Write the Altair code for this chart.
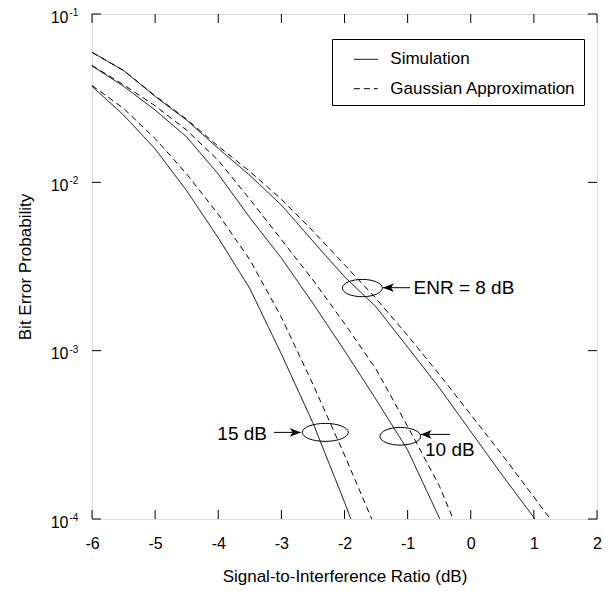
import altair as alt
import pandas as pd

# ---------------- data ----------------
snr = [-6, -5.5, -5, -4.5, -4, -3.5, -3, -2.5, -2, -1.5, -1, -0.5, 0, 0.5, 1, 1.5]

enr8_sim = [0.0592, 0.0462, 0.0324, 0.0234, 0.0159, 0.0110, 0.00733, 0.00447,
            0.00275, 0.00182, 0.00105, 0.000603, 0.000331, 0.000182, 0.000102, 0.0000562]
enr8_gauss = [0.0592, 0.0462, 0.0327, 0.0237, 0.0164, 0.0116, 0.00794, 0.00513,
              0.00324, 0.00204, 0.00123, 0.000724, 0.000417, 0.000240, 0.000135, 0.0000759]
enr10_sim = [0.0492, 0.0372, 0.0269, 0.0186, 0.0112, 0.00617, 0.00355, 0.00191,
             0.00100, 0.000513, 0.000257, 0.000102, 0.0000316]
enr10_gauss = [0.0495, 0.0380, 0.0285, 0.0204, 0.0135, 0.00794, 0.00457, 0.00263,
               0.00145, 0.000776, 0.000355, 0.000158, 0.0000562]
enr15_sim = [0.0372, 0.0251, 0.0158, 0.00891, 0.00468, 0.00234, 0.000955, 0.000372,
             0.000126, 0.0000398]
enr15_gauss = [0.0376, 0.0275, 0.0182, 0.0112, 0.00646, 0.00347, 0.00158, 0.000631,
               0.000240, 0.0000871, 0.0000316]

series_types = ["Simulation", "Gaussian Approximation"]

x_ticks = [-6, -5, -4, -3, -2, -1, 0, 1, 2]
y_ticks = [1e-1, 1e-2, 1e-3, 1e-4]
y_tick_exps = ["-1", "-2", "-3", "-4"]

# annotations (data coordinates)
ann_labels = ["ENR = 8 dB", "10 dB", "15 dB"]
ann_x = [-0.907, -0.725, -3.228]
ann_p = [0.002366, 0.000256, 0.000322]
ann_align = ["left", "left", "right"]

ell_x = [-1.718, -1.116, -2.304]
ell_p = [0.002355, 0.000310, 0.000327]

arrow_from_x = [-0.962, -0.329, -3.117]
arrow_tip_x = [-1.39, -0.793, -2.694]
arrow_p = [0.002366, 0.000318, 0.000327]
arrow_dir = ["left", "left", "right"]

# ---------------- styles ----------------
FONT = "Liberation Sans"
ell_w = [40, 40.7, 46]
ell_h = [17.3, 17.7, 18]
LEFT_HEAD = "M0,0L2,-0.8L1.45,0L2,0.8Z"
RIGHT_HEAD = "M0,0L-2,-0.8L-1.45,0L-2,0.8Z"

# ---------------- tables ----------------
rows = []
for name, vals, typ in [("8s", enr8_sim, "Simulation"), ("8g", enr8_gauss, "Gaussian Approximation"),
                        ("10s", enr10_sim, "Simulation"), ("10g", enr10_gauss, "Gaussian Approximation"),
                        ("15s", enr15_sim, "Simulation"), ("15g", enr15_gauss, "Gaussian Approximation")]:
    for xv, pv in zip(snr, vals):
        rows.append({"x": xv, "p": pv, "series": name, "type": typ})
df = pd.DataFrame(rows)

xt_df = pd.DataFrame({"x": x_ticks})
yt_df = pd.DataFrame({"p": y_ticks, "exp": y_tick_exps})

ann_df = pd.DataFrame({"x": ann_x, "p": ann_p, "label": ann_labels, "align": ann_align})
ell_df = pd.DataFrame({
    "x": ell_x, "p": ell_p,
    "shape": [f"M-1,0A1,{h / w:.3f},0,1,0,1,0A1,{h / w:.3f},0,1,0,-1,0Z" for w, h in zip(ell_w, ell_h)],
    "size": [w * w for w in ell_w],
})
arr_df = pd.DataFrame({"x": arrow_from_x, "x2": arrow_tip_x, "p": arrow_p,
                       "shape": [LEFT_HEAD if d == "left" else RIGHT_HEAD for d in arrow_dir]})

W = H = 505
xscale = alt.Scale(domain=[-6, 2], nice=False, zero=False)
yscale = alt.Scale(type="log", domain=[1e-4, 1e-1], nice=False)

xaxis = alt.Axis(values=x_ticks, labelExpr="'' + datum.value", ticks=False, tickSize=0,
                 domain=False, grid=False, labelFontSize=16, labelFont=FONT, labelColor="black",
                 labelPadding=16, labelFlush=False, labelOverlap=False,
                 title="Signal-to-Interference Ratio (dB)", titleFont=FONT, titleFontSize=17,
                 titleFontWeight="normal", titleColor="black", titlePadding=17)
yaxis = alt.Axis(labels=False, ticks=False, tickSize=0, domain=False, grid=False,
                 title="Bit Error Probability", titleFont=FONT, titleFontSize=17,
                 titleFontWeight="normal", titleColor="black", titlePadding=58)


def X(field):
    return alt.X(field, type="quantitative", scale=xscale, axis=xaxis)


def Y(field):
    return alt.Y(field, type="quantitative", scale=yscale, axis=yaxis)


lines = alt.Chart(df).mark_line(clip=True, strokeWidth=1, color="black").encode(
    x=X("x"),
    y=Y("p"),
    strokeDash=alt.StrokeDash(
        "type:N",
        scale=alt.Scale(domain=series_types, range=[[1, 0], [6, 4]]),
        legend=alt.Legend(
            orient="none", legendX=240, legendY=25, title=None,
            symbolType="stroke", symbolStrokeColor="black", symbolStrokeWidth=1,
            symbolSize=576, symbolOffset=13.5, labelFont=FONT, labelFontSize=17,
            labelColor="black", labelOffset=12, labelLimit=400, padding=7.8, rowPadding=8.4,
            strokeColor="black", fillColor="white",
        ),
    ),
    detail="series:N",
)

tick_bottom = alt.Chart(xt_df).mark_rule(color="black", strokeWidth=1).encode(
    x=X("x"), y=alt.value(H), y2=alt.value(H - 9))
tick_top = alt.Chart(xt_df).mark_rule(color="black", strokeWidth=1).encode(
    x=X("x"), y=alt.value(0), y2=alt.value(9))
tick_left = alt.Chart(yt_df).mark_rule(color="black", strokeWidth=1).encode(
    y=Y("p"), x=alt.value(0), x2=alt.value(9))
tick_right = alt.Chart(yt_df).mark_rule(color="black", strokeWidth=1).encode(
    y=Y("p"), x=alt.value(W), x2=alt.value(W - 9))

ylab_base = alt.Chart(yt_df).mark_text(align="right", baseline="middle", fontSize=16,
                                       font=FONT, color="black", dy=3.5).encode(
    y=Y("p"), x=alt.value(-23.5), text=alt.value("10"))
ylab_exp = alt.Chart(yt_df).mark_text(align="left", baseline="middle", fontSize=10,
                                      font=FONT, color="black", dy=-1).encode(
    y=Y("p"), x=alt.value(-22.5), text="exp:N")

ellipses = alt.Chart(ell_df).mark_point(filled=False, color="black", strokeWidth=1, opacity=1).encode(
    x=X("x"), y=Y("p"),
    shape=alt.Shape("shape:N", scale=None), size=alt.Size("size:Q", scale=None))

shafts = alt.Chart(arr_df).mark_rule(color="black", strokeWidth=1).encode(
    x=X("x"), x2="x2:Q", y=Y("p"))
heads = alt.Chart(arr_df).mark_point(filled=True, color="black", opacity=1, strokeWidth=0).encode(
    x=X("x2"), y=Y("p"),
    shape=alt.Shape("shape:N", scale=None), size=alt.value(121))

texts_l = alt.Chart(ann_df[ann_df["align"] == "left"]).mark_text(
    align="left", baseline="middle", fontSize=19, font=FONT, color="black").encode(
    x=X("x"), y=Y("p"), text="label:N")
texts_r = alt.Chart(ann_df[ann_df["align"] == "right"]).mark_text(
    align="right", baseline="middle", fontSize=19, font=FONT, color="black").encode(
    x=X("x"), y=Y("p"), text="label:N")

chart = alt.layer(
    lines, tick_bottom, tick_top, tick_left, tick_right, ylab_base, ylab_exp,
    ellipses, shafts, heads, texts_l, texts_r,
).properties(
    width=W, height=H,
    padding={"left": 84, "top": 6, "right": 8, "bottom": 70},
    autosize=alt.AutoSizeParams(type="none"),
    background="white",
).configure_view(stroke="black", strokeWidth=1).configure(font=FONT)

chart.save("out.html", embed_options={"renderer": "svg", "actions": False})
